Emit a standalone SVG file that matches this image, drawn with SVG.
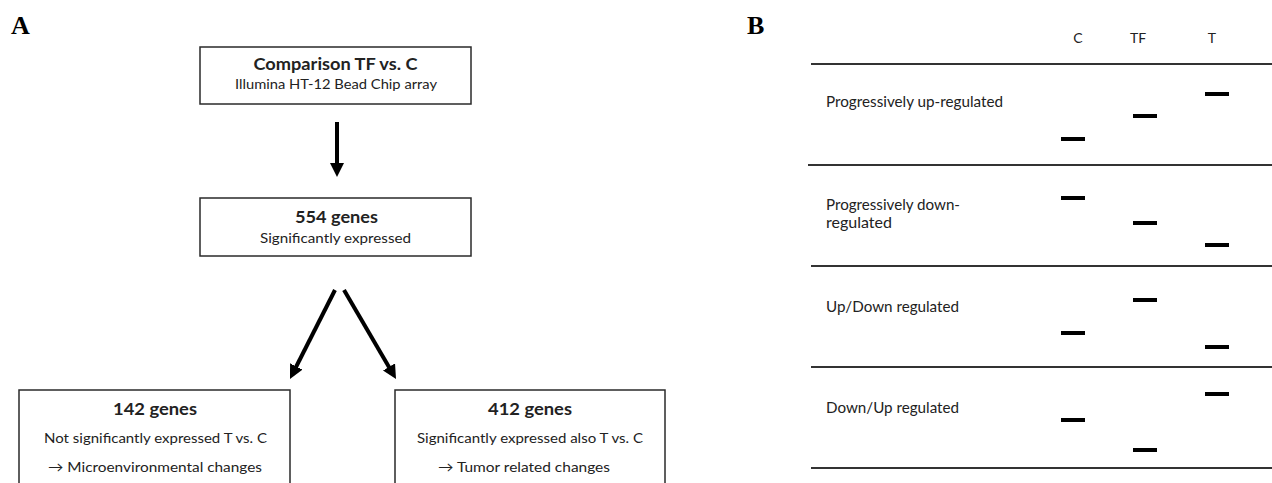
<svg xmlns="http://www.w3.org/2000/svg" width="1272" height="483" viewBox="0 0 1272 483">
<defs>
<style>
.bg{fill:#ffffff}
.box{fill:#ffffff;stroke:#2a2a2a;stroke-width:1.5}
.t{font-family:Lato,"Open Sans","Liberation Sans",sans-serif;fill:#222;text-anchor:middle}
.b{font-weight:bold}
.lbl{font-family:"Liberation Serif","Times New Roman",serif;font-weight:bold;font-size:26px;fill:#000}
.rl{font-family:Lato,"Open Sans","Liberation Sans",sans-serif;fill:#222;font-size:15px}
.conn{stroke:#000;stroke-width:4;fill:none;marker-end:url(#ah)}
.rule{stroke:#333;stroke-width:2}
.dash{fill:#000}
</style>
<marker id="ah" markerUnits="userSpaceOnUse" viewBox="0 0 14 14" refX="4" refY="7" markerWidth="14" markerHeight="14" orient="auto">
<path d="M0,0 L14,7 L0,14 z" fill="#000"/>
</marker>
</defs>
<rect class="bg" x="0" y="0" width="1272" height="483"/>

<text class="lbl" x="11" y="34">A</text>
<text class="lbl" x="747" y="34">B</text>

<g id="connectors">
<line class="conn" x1="337" y1="122" x2="337" y2="167"/>
<line class="conn" x1="335" y1="290" x2="294.5" y2="370"/>
<line class="conn" x1="344" y1="290" x2="391" y2="370.4"/>
</g>

<g id="node-comparison">
<rect class="box" x="200" y="47" width="271" height="57"/>
<text class="t b" x="335.5" y="70" font-size="17" textLength="164" lengthAdjust="spacingAndGlyphs">Comparison TF vs. C</text>
<text class="t" x="336" y="89" font-size="14" textLength="202" lengthAdjust="spacingAndGlyphs">Illumina HT-12 Bead Chip array</text>
</g>

<g id="node-554">
<rect class="box" x="200" y="198" width="271" height="58"/>
<text class="t b" x="336.5" y="223" font-size="17" textLength="83" lengthAdjust="spacingAndGlyphs">554 genes</text>
<text class="t" x="335.5" y="243" font-size="14" textLength="151" lengthAdjust="spacingAndGlyphs">Significantly expressed</text>
</g>

<g id="node-142">
<rect class="box" x="19" y="390" width="271" height="110"/>
<text class="t b" x="155" y="415" font-size="17" textLength="84" lengthAdjust="spacingAndGlyphs">142 genes</text>
<text class="t" x="155.5" y="443" font-size="14" textLength="223" lengthAdjust="spacingAndGlyphs">Not significantly expressed T vs. C</text>
<text class="t" x="155" y="472" font-size="14" textLength="214" lengthAdjust="spacingAndGlyphs">→ Microenvironmental changes</text>
</g>

<g id="node-412">
<rect class="box" x="395" y="390" width="270" height="110"/>
<text class="t b" x="530" y="415" font-size="17" textLength="84" lengthAdjust="spacingAndGlyphs">412 genes</text>
<text class="t" x="530" y="443" font-size="14" textLength="226" lengthAdjust="spacingAndGlyphs">Significantly expressed also T vs. C</text>
<text class="t" x="524" y="472" font-size="14" textLength="172" lengthAdjust="spacingAndGlyphs">→ Tumor related changes</text>
</g>

<g id="panel-b">
<text class="t" x="1078" y="43" font-size="14">C</text>
<text class="t" x="1138" y="43" font-size="14">TF</text>
<text class="t" x="1212" y="43" font-size="14">T</text>

<line class="rule" x1="811" y1="64" x2="1272" y2="64"/>
<line class="rule" x1="808" y1="165" x2="1272" y2="165"/>
<line class="rule" x1="811" y1="266" x2="1272" y2="266"/>
<line class="rule" x1="811" y1="367" x2="1272" y2="367"/>
<line class="rule" x1="811" y1="468" x2="1272" y2="468"/>

<g id="row-up">
<text class="rl" x="826" y="107" textLength="177" lengthAdjust="spacingAndGlyphs">Progressively up-regulated</text>
<rect class="dash" x="1061" y="137" width="24" height="4"/>
<rect class="dash" x="1133" y="114" width="24" height="4"/>
<rect class="dash" x="1205" y="92" width="24" height="4"/>
</g>
<g id="row-down">
<text class="rl" x="826" y="210" textLength="134" lengthAdjust="spacingAndGlyphs">Progressively down-</text>
<text class="rl" x="826" y="228" textLength="66" lengthAdjust="spacingAndGlyphs">regulated</text>
<rect class="dash" x="1061" y="196" width="24" height="4"/>
<rect class="dash" x="1133" y="221" width="24" height="4"/>
<rect class="dash" x="1205" y="243" width="24" height="4"/>
</g>
<g id="row-updown">
<text class="rl" x="826" y="312" textLength="133" lengthAdjust="spacingAndGlyphs">Up/Down regulated</text>
<rect class="dash" x="1061" y="331" width="24" height="4"/>
<rect class="dash" x="1133" y="298" width="24" height="4"/>
<rect class="dash" x="1205" y="345" width="24" height="4"/>
</g>
<g id="row-downup">
<text class="rl" x="826" y="413" textLength="133" lengthAdjust="spacingAndGlyphs">Down/Up regulated</text>
<rect class="dash" x="1061" y="418" width="24" height="4"/>
<rect class="dash" x="1133" y="448" width="24" height="4"/>
<rect class="dash" x="1205" y="392" width="24" height="4"/>
</g>
</g>
</svg>
